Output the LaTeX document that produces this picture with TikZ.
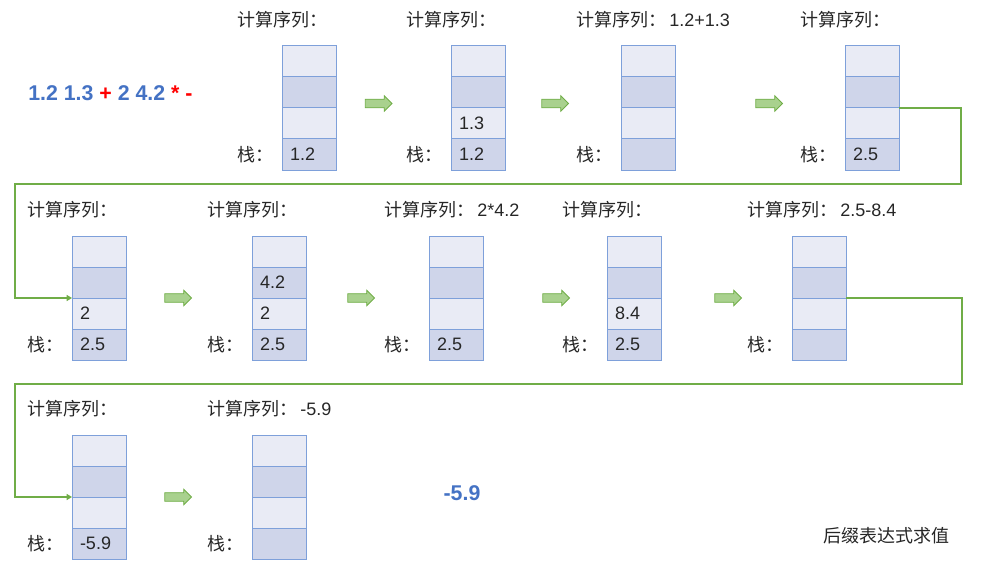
\documentclass[tikz,border=0pt]{standalone}
\usepackage{fontspec}
\setmainfont{Liberation Sans}
\newfontfamily\cjk{Noto Sans CJK SC}
\usetikzlibrary{arrows.meta,positioning,shapes.arrows}

\definecolor{cellLight}{HTML}{E9EBF5}
\definecolor{cellDark}{HTML}{CFD5EA}
\definecolor{cellLine}{HTML}{7EA0DA}
\definecolor{numBlue}{HTML}{4472C4}
\definecolor{linkGreen}{HTML}{70AD47}
\definecolor{arrowFill}{HTML}{A9D18E}

% one stack: name, x, top y, sequence, cells top to bottom
\newcommand{\stackcol}[8]{%
  \node[cell, fill=cellLight, anchor=north] (#1-1) at (#2,#3) {#5};
  \node[cell, fill=cellDark, below=0pt of #1-1] (#1-2) {#6};
  \node[cell, fill=cellLight, below=0pt of #1-2] (#1-3) {#7};
  \node[cell, fill=cellDark, below=0pt of #1-3] (#1-4) {#8};
  \node[txt, anchor=west] (#1-seq) at ([xshift=-33.75pt, yshift=20pt]#1-1.north west) {{\cjk 计算序列：}\,#4};
  \node[txt, anchor=west] (#1-lbl) at ([xshift=-33.75pt]#1-4.west) {\cjk 栈：};
}

\begin{document}
\begin{tikzpicture}[
    x=0.75pt, y=-0.75pt,
    cell/.style={draw=cellLine, line width=0.75pt, minimum height=23.25pt, text width=28.5pt,
        inner xsep=6pt, inner ysep=0pt, align=left, outer sep=0pt, text=black!85,
        font=\fontsize{13.5}{16}\selectfont},
    txt/.style={inner sep=0pt, text=black!85, font=\fontsize{13.5}{16}\selectfont},
    flow/.style={single arrow, draw=linkGreen, fill=arrowFill, line width=0.6pt, inner sep=2.9pt,
        minimum height=20pt, single arrow head extend=2.6pt},
    link/.style={draw=linkGreen, line width=1.1pt, -{Triangle[length=4pt, width=4.5pt]}},
    bold/.style={inner sep=0pt, font=\fontsize{16}{19}\selectfont\bfseries},
]
\useasboundingbox (0,0) rectangle (1005,563);

% === Input expression ===
\node[bold, anchor=west] (postfix) at (28,93)
    {\textcolor{numBlue}{1.2 1.3} \textcolor{red}{+} \textcolor{numBlue}{2 4.2} \textcolor{red}{* -}};

% === Row 1 ===
\stackcol{s1}{309}{46}{}{}{}{}{1.2}
\stackcol{s2}{478}{46}{}{}{}{1.3}{1.2}
\stackcol{s3}{648}{46}{1.2+1.3}{}{}{}{}
\stackcol{s4}{872}{46}{}{}{}{}{2.5}

\node[flow] (a1) at (376.5,103.5) {};
\node[flow] (a2) at (553,103.5) {};
\node[flow] (a3) at (767,103.5) {};

% === Row 2 ===
\stackcol{s5}{99}{236}{}{}{}{2}{2.5}
\stackcol{s6}{279}{236}{}{}{4.2}{2}{2.5}
\stackcol{s7}{456}{236}{2*4.2}{}{}{}{2.5}
\stackcol{s8}{634}{236}{}{}{}{8.4}{2.5}
\stackcol{s9}{819}{236}{2.5-8.4}{}{}{}{}

\node[flow] (a4) at (176,298) {};
\node[flow] (a5) at (359,298) {};
\node[flow] (a6) at (554,298) {};
\node[flow] (a7) at (726,298) {};

% === Row 3 ===
\stackcol{s10}{99}{435}{}{}{}{}{-5.9}
\stackcol{s11}{279}{435}{-5.9}{}{}{}{}

\node[flow] (a8) at (176,497) {};

% === Line breaks between rows ===
\coordinate (turn1) at (961,184);
\coordinate (turn2) at (15,184);
\draw[link] (s4-2.south east) -| (turn1) -- (turn2) |- (s5-2.south west);

\coordinate (turn3) at (962,384);
\coordinate (turn4) at (15,384);
\draw[link] (s9-2.south east) -| (turn3) -- (turn4) |- (s10-2.south west);

% === Result and caption ===
\node[bold, text=numBlue] (value) at (462,493) {-5.9};
\node[txt] (title) at (886,536) {\cjk 后缀表达式求值};

\end{tikzpicture}
\end{document}
